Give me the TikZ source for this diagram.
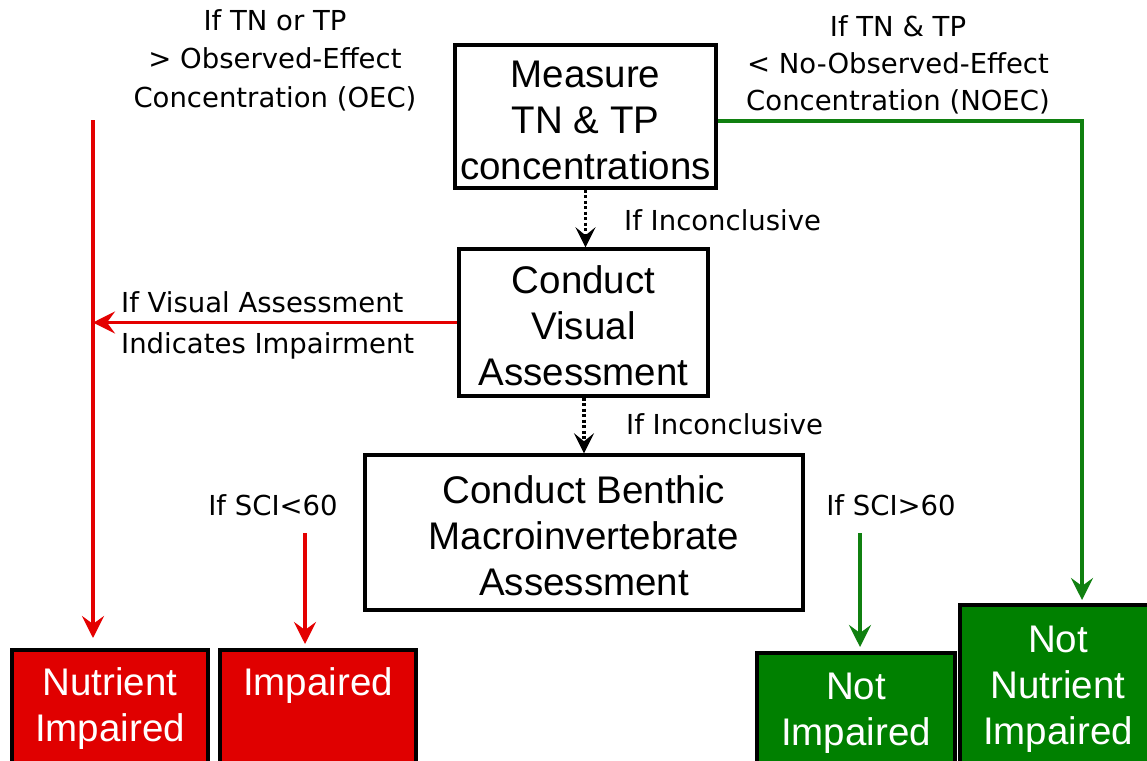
\documentclass[tikz,border=0pt]{standalone}
\usepackage{fontspec}
\setmainfont{Liberation Sans}
\newfontfamily\labfont{DejaVu Sans}
\usetikzlibrary{arrows.meta,positioning,calc}
\definecolor{redbox}{RGB}{224,0,0}
\definecolor{greenbox}{RGB}{0,128,0}
\definecolor{redline}{RGB}{228,0,0}
\definecolor{greenline}{RGB}{16,128,16}
\tikzset{
  procbox/.style={draw=black,line width=3.4pt,inner sep=0pt},
  proctext/.style={align=center,inner sep=0pt,font=\fontsize{38.5}{46}\selectfont},
  resbox/.style={draw=black,line width=3.6pt,align=center,inner sep=0pt,text=white,anchor=north,
    font=\fontsize{38.5}{46}\selectfont},
  lab/.style={align=center,inner sep=0pt,font=\labfont\fontsize{27.5}{38.5}\selectfont},
  tip/.style={-{Stealth[length=22pt,width=22pt,inset=8pt]}},
  redarrow/.style={tip,draw=redline,line width=3.4pt},
  greenarrow/.style={tip,draw=greenline,line width=3.4pt},
  dotarrow/.style={draw=black,line width=3.4pt,dash pattern=on 3pt off 2.5pt,
    -{Stealth[length=20pt,width=20pt,inset=8pt]}},
}
\begin{document}
\begin{tikzpicture}[x=1pt,y=-1pt]
\clip (0,0) rectangle (1147,760);
\useasboundingbox (0,0) rectangle (1147,760);
\fill[white] (0,0) rectangle (1147,760);

% process boxes
\node[procbox,minimum width=261pt,minimum height=143pt] (measure) at (585.5,116.5) {};
\node[proctext] (measuretxt) at (585.5,120.5) {Measure\\TN \& TP\\concentrations};
\node[procbox,minimum width=249pt,minimum height=147pt] (visual) at (583.5,322.5) {};
\node[proctext] (visualtxt) at (583.5,325.5) {Conduct\\Visual\\Assessment};
\node[procbox,minimum width=438pt,minimum height=155pt] (benthic) at (584,532.5) {};
\node[proctext] (benthictxt) at (584,535.5) {Conduct Benthic\\Macroinvertebrate\\Assessment};

% result boxes
\node[resbox,fill=redbox,minimum width=196pt,minimum height=117pt] (nutr) at (110,648)
  {Nutrient\\Impaired};
\node[resbox,fill=redbox,minimum width=196pt,minimum height=124pt] (imp) at (318,648)
  {Impaired\\\strut};
\node[resbox,fill=greenbox,minimum width=198pt,minimum height=120pt] (notimp) at (856,651)
  {Not\\Impaired};
\node[resbox,fill=greenbox,minimum width=196pt,minimum height=168pt] (notnutr) at (1058,603)
  {Not\\Nutrient\\Impaired};

% labels
\node[lab] (oec) at (275,60) {If TN or TP\\> Observed-Effect\\Concentration (OEC)};
\node[lab,font=\labfont\fontsize{27.5}{37}\selectfont] (noec) at (898,65) {If TN \& TP\\< No-Observed-Effect\\Concentration (NOEC)};
\node[lab,anchor=west] (inc1) at (624,220) {If Inconclusive};
\node[lab,anchor=west] (inc2) at (626,424) {If Inconclusive};
\node[lab,anchor=west,align=left,font=\labfont\fontsize{27.5}{41}\selectfont] (vislab) at (121,325)
  {If Visual Assessment\\Indicates Impairment};
\node[lab] (scilow) at (273,505) {If SCI<60};
\node[lab] (scihigh) at (891,505) {If SCI>60};

% helper coordinates
\coordinate (oecstart) at (93,120);
\coordinate (lowstart) at (305,533);
\coordinate (highstart) at (860,533);
\coordinate (noecturn) at (1082,121);

% connectors
\draw[dotarrow] (measure.south) -- (visual.north -| measure.south);
\draw[dotarrow] (visual.south -| benthic.north) -- (benthic.north);
\draw[redarrow,shorten >=10pt] (oecstart) -- (oecstart |- nutr.north);
\draw[redarrow] (visual.west) -- (visual.west -| oecstart);
\draw[redarrow,shorten >=4pt] (lowstart) -- (lowstart |- imp.north);
\draw[greenarrow,shorten >=4pt] (highstart) -- (highstart |- notimp.north);
\draw[greenarrow,shorten >=3pt] (measure.east |- noecturn) -- (noecturn) -- (noecturn |- notnutr.north);
\end{tikzpicture}
\end{document}
